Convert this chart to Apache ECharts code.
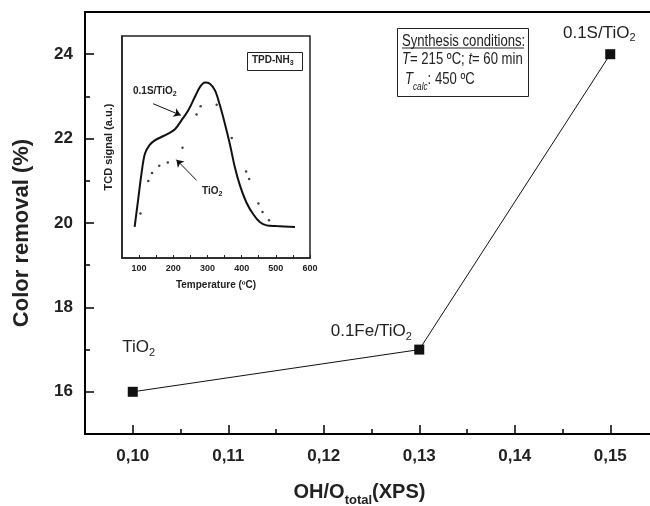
<!DOCTYPE html>
<html><head><meta charset="utf-8">
<script src="https://cdn.jsdelivr.net/npm/echarts@6/dist/echarts.min.js"></script>
<style>html,body{margin:0;padding:0;background:#fff}#c{width:650px;height:506px}</style>
</head><body><div id="c"></div>
<script>
// ---- main chart data ----
const ohRatio = [0.10, 0.13, 0.15];
const colorRemoval = [16, 17, 24];
const sampleNames = ['TiO{s|2}', '0.1Fe/TiO{s|2}', '0.1S/TiO{s|2}'];
const yMajorTicks = [16, 18, 20, 22, 24];
const yMinorTicks = [17, 19, 21, 23];
const xMajorTicks = [0.10, 0.11, 0.12, 0.13, 0.14, 0.15];
const xMinorTicks = [0.105, 0.115, 0.125, 0.135, 0.145];

// ---- inset (TPD-NH3) data ----
const tempS = [87, 97, 107, 117, 131, 146, 165, 185, 205, 224, 244, 263, 278, 293, 307, 322, 336, 351, 366, 380, 395, 414, 434, 453, 473, 502, 556];
const tcdS  = [14, 26, 38, 47, 51, 53, 54.5, 56, 58, 62, 66.5, 72.5, 77, 79, 78.5, 75.5, 69, 60.5, 51, 41, 32.7, 25, 19.7, 16.2, 14.7, 14.4, 14];
const tempTi = [104, 127, 138, 159, 184, 227, 268, 280, 327, 371, 413, 422, 449, 461, 480];
const tcdTi  = [20, 34.7, 38.3, 41.6, 43, 49.7, 64.6, 68.3, 69, 54, 39, 35.6, 24.5, 20.7, 17];
const insetXLabels = [100, 200, 300, 400, 500, 600];
const insetXTicks = [100, 150, 200, 250, 300, 350, 400, 450, 500, 550, 600];

const FONT = "'Liberation Sans', Arial, sans-serif";
const chart = echarts.init(document.getElementById('c'));

const labelOffsets = [[6, -44], [-48, -18], [-11, -21]];
const NARROW_SCALE = 0.82;

const option = {
  animation: false,
  backgroundColor: '#fff',
  grid: [
    {left: 85, top: 12, width: 573, height: 422, show: true, borderColor: '#000', borderWidth: 2, containLabel: false, outerBoundsMode: 'none'},
    {left: 122, top: 36, width: 188, height: 222, show: true, borderColor: '#222', borderWidth: 1.5, backgroundColor: '#fff', containLabel: false, outerBoundsMode: 'none'}
  ],
  xAxis: [
    {gridIndex: 0, type: 'value', min: 0.095, max: 0.155, position: 'bottom',
     axisLine: {show: true, onZero: false, lineStyle: {color: '#000', width: 2}},
     axisTick: {show: true, inside: true, length: 9, customValues: xMajorTicks, lineStyle: {color: '#000', width: 1.5}},
     axisLabel: {customValues: xMajorTicks, formatter: v => v.toFixed(2).replace('.', ','), fontFamily: FONT, fontWeight: 'bold', fontSize: 17, color: '#222', margin: 14},
     splitLine: {show: false},
     name: 'OH/O{s|total}(XPS)', nameLocation: 'middle', nameGap: 44,
     nameTextStyle: {fontFamily: FONT, fontWeight: 'bold', fontSize: 20, color: '#222', padding: [0, 24, 0, 0],
       rich: {s: {fontFamily: FONT, fontWeight: 'bold', fontSize: 13, color: '#222', padding: [16, 0, 0, 0]}}}},
    {gridIndex: 0, type: 'value', min: 0.095, max: 0.155, position: 'bottom',
     axisLine: {show: false, onZero: false},
     axisTick: {show: true, inside: true, length: 5, customValues: xMinorTicks, lineStyle: {color: '#000', width: 1.5}},
     axisLabel: {show: false}, splitLine: {show: false}},
    {gridIndex: 1, type: 'value', min: 50, max: 600, position: 'bottom',
     axisLine: {show: true, onZero: false, lineStyle: {color: '#222', width: 1.5}},
     axisTick: {show: true, inside: true, length: 3, customValues: insetXTicks, lineStyle: {color: '#222', width: 1}},
     axisLabel: {customValues: insetXLabels, fontFamily: FONT, fontWeight: 'bold', fontSize: 9, color: '#222', margin: 6},
     splitLine: {show: false},
     name: 'Temperature (ºC)', nameLocation: 'middle', nameGap: 22,
     nameTextStyle: {fontFamily: FONT, fontWeight: 'bold', fontSize: 10, color: '#222'}}
  ],
  yAxis: [
    {gridIndex: 0, type: 'value', min: 15, max: 25, position: 'left',
     axisLine: {show: true, onZero: false, lineStyle: {color: '#000', width: 2}},
     axisTick: {show: true, inside: true, length: 9, customValues: yMajorTicks, lineStyle: {color: '#000', width: 1.5}},
     axisLabel: {customValues: yMajorTicks, fontFamily: FONT, fontWeight: 'bold', fontSize: 17, color: '#222', margin: 12},
     splitLine: {show: false},
     name: 'Color removal (%)', nameLocation: 'middle', nameGap: 52,
     nameTextStyle: {fontFamily: FONT, fontWeight: 'bold', fontSize: 22, color: '#222', padding: [0, 20, 0, 0]}},
    {gridIndex: 0, type: 'value', min: 15, max: 25, position: 'left',
     axisLine: {show: false, onZero: false},
     axisTick: {show: true, inside: true, length: 5, customValues: yMinorTicks, lineStyle: {color: '#000', width: 1.5}},
     axisLabel: {show: false}, splitLine: {show: false}},
    {gridIndex: 1, type: 'value', min: 0, max: 100, position: 'left',
     axisLine: {show: true, onZero: false, lineStyle: {color: '#222', width: 1.5}},
     axisTick: {show: false}, axisLabel: {show: false}, splitLine: {show: false},
     name: 'TCD signal (a.u.)', nameLocation: 'middle', nameGap: 8,
     nameTextStyle: {fontFamily: FONT, fontWeight: 'bold', fontSize: 11, color: '#222'}}
  ],
  series: [
    {type: 'line', xAxisIndex: 0, yAxisIndex: 0, z: 5,
     data: ohRatio.map((x, i) => ({
       value: [x, colorRemoval[i]],
       label: {offset: labelOffsets[i], formatter: sampleNames[i]}
     })),
     symbol: 'rect', symbolSize: 10,
     itemStyle: {color: '#111'}, lineStyle: {color: '#111', width: 1},
     label: {show: true, position: [5, 5], align: 'center', verticalAlign: 'middle',
       fontFamily: FONT, fontSize: 17, color: '#222', rich: {s: {fontFamily: FONT, fontSize: 11, color: '#222', padding: [10, 0, 0, 0]}}}},
    {type: 'line', xAxisIndex: 2, yAxisIndex: 2, z: 6,
     data: tempS.map((t, i) => [t, tcdS[i]]), smooth: 0.35, symbol: 'none',
     lineStyle: {color: '#111', width: 2},
     markLine: {silent: true, symbol: ['none', 'arrow'], symbolSize: 7,
       lineStyle: {color: '#111', width: 1, type: 'solid'}, label: {show: false},
       data: [
         [{coord: [141, 69.5]}, {coord: [222, 64.3]}],
         [{coord: [268, 35]}, {coord: [209, 44.3]}]
       ]}},
    {type: 'scatter', xAxisIndex: 2, yAxisIndex: 2, z: 6,
     data: tempTi.map((t, i) => [t, tcdTi[i]]), symbol: 'circle', symbolSize: 2.5,
     itemStyle: {color: '#111'}}
  ],
  graphic: [
    // Synthesis conditions box
    {type: 'rect', z: 10, shape: {x: 397.5, y: 28.5, width: 131, height: 68}, style: {fill: '#fff', stroke: '#222', lineWidth: 1}},
    {type: 'text', z: 11, x: 402, y: 41.5, scaleX: NARROW_SCALE, style: {text: 'Synthesis conditions:', font: '16px ' + FONT, fill: '#222', verticalAlign: 'middle'}},
    {type: 'line', z: 11, shape: {x1: 402, y1: 48, x2: 524, y2: 48}, style: {stroke: '#222', lineWidth: 1}},
    {type: 'text', z: 11, x: 402, y: 60, scaleX: NARROW_SCALE, style: {
      text: '{i|T}{n|= 215 ºC; }{i|t}{n|= 60 min}', verticalAlign: 'middle',
      rich: {i: {fontStyle: 'italic', fontSize: 16, fontFamily: FONT, fill: '#222'}, n: {fontSize: 16, fontFamily: FONT, fill: '#222'}}}},
    {type: 'text', z: 11, x: 405, y: 80, scaleX: NARROW_SCALE, style: {
      text: '{i|T}{s|calc}{n|: 450 ºC}', verticalAlign: 'middle',
      rich: {i: {fontStyle: 'italic', fontSize: 16, fontFamily: FONT, fill: '#222'},
             s: {fontStyle: 'italic', fontSize: 10, fontFamily: FONT, fill: '#222', padding: [14, 0, 0, 0]},
             n: {fontSize: 16, fontFamily: FONT, fill: '#222'}}}},
    // TPD-NH3 box
    {type: 'rect', z: 10, shape: {x: 247.5, y: 52.5, width: 55, height: 18}, style: {fill: '#fff', stroke: '#222', lineWidth: 1}},
    {type: 'text', z: 11, left: 252, top: 55, style: {
      text: '{m|TPD-NH}{s|3}', rich: {m: {fontSize: 10, fontWeight: 'bold', fontFamily: FONT, fill: '#222'}, s: {fontSize: 7, fontWeight: 'bold', fontFamily: FONT, fill: '#222', padding: [6, 0, 0, 0]}}}},
    // inset labels
    {type: 'text', z: 11, left: 133, top: 86, style: {
      text: '{m|0.1S/TiO}{s|2}', rich: {m: {fontSize: 10, fontWeight: 'bold', fontFamily: FONT, fill: '#222'}, s: {fontSize: 7, fontWeight: 'bold', fontFamily: FONT, fill: '#222', padding: [6, 0, 0, 0]}}}},
    {type: 'text', z: 11, left: 202, top: 186, style: {
      text: '{m|TiO}{s|2}', rich: {m: {fontSize: 10, fontWeight: 'bold', fontFamily: FONT, fill: '#222'}, s: {fontSize: 7, fontWeight: 'bold', fontFamily: FONT, fill: '#222', padding: [6, 0, 0, 0]}}}}
  ]
};
chart.setOption(option);
</script>
</body></html>
